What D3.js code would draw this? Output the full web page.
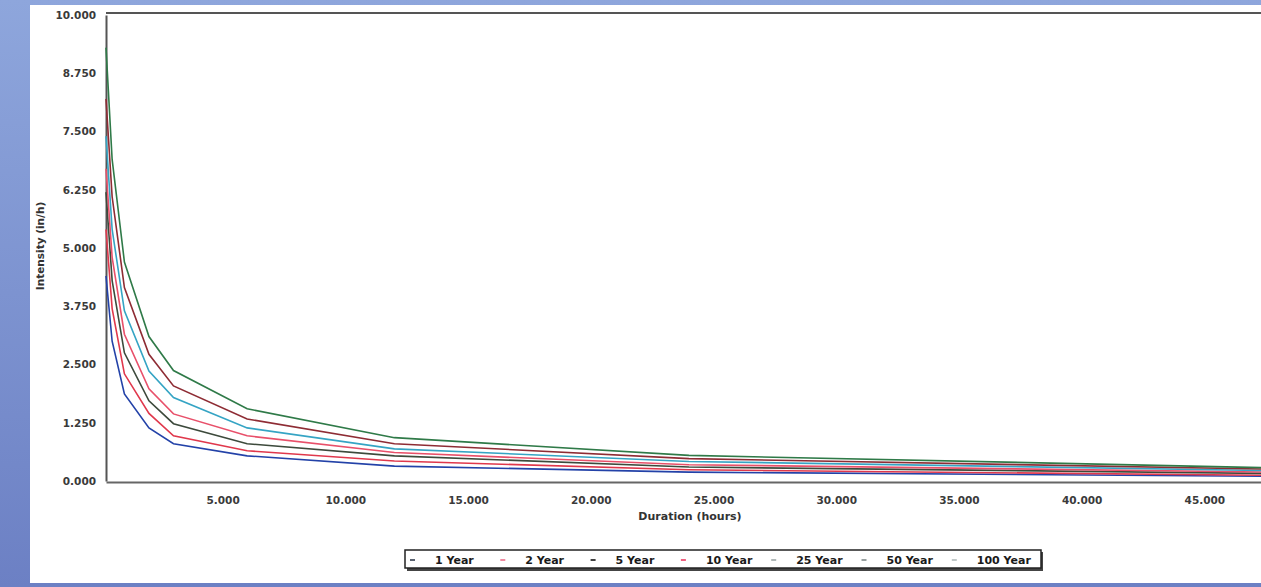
<!DOCTYPE html>
<html>
<head>
<meta charset="utf-8">
<script src="https://cdn.jsdelivr.net/npm/d3@7"></script>
<style>
  body { margin: 0; background: #fff; }
  text { font-family: "DejaVu Sans", Verdana, sans-serif; }
</style>
</head>
<body>
<div id="chart"></div>
<script>
// durations in hours
var durations = [0.25, 0.5, 1, 2, 3, 6, 12, 24, 48];

// intensities (in/h)
var year1   = [4.40, 3.00, 1.87, 1.14, 0.80, 0.54, 0.32, 0.19, 0.10];
var year2   = [5.40, 3.70, 2.30, 1.45, 0.97, 0.65, 0.43, 0.24, 0.12];
var year5   = [6.20, 4.30, 2.75, 1.72, 1.23, 0.80, 0.54, 0.30, 0.16];
var year10  = [6.70, 4.80, 3.15, 1.98, 1.44, 0.97, 0.61, 0.35, 0.19];
var year25  = [7.40, 5.40, 3.65, 2.36, 1.79, 1.14, 0.69, 0.42, 0.22];
var year50  = [8.20, 6.10, 4.15, 2.72, 2.04, 1.33, 0.80, 0.48, 0.25];
var year100 = [9.30, 6.90, 4.70, 3.10, 2.37, 1.55, 0.93, 0.55, 0.28];

var seriesNames = ["1 Year", "2 Year", "5 Year", "10 Year", "25 Year", "50 Year", "100 Year"];
var seriesValues = [year1, year2, year5, year10, year25, year50, year100];
var seriesColors = ["#2342a8", "#e0384c", "#3d4a3c", "#e8506a", "#35a4c4", "#8e2c34", "#2f7a48"];
var legendMarks = ["#5a6270", "#f08aa0", "#404040", "#f06080", "#b0b8b8", "#98a0a0", "#c0c8c8"];

var yTicks = [0, 1.25, 2.5, 3.75, 5, 6.25, 7.5, 8.75, 10];
var xTicks = [5, 10, 15, 20, 25, 30, 35, 40, 45];

var width = 1261,
    height = 587;

var svg = d3.select("#chart").append("svg")
  .attr("width", width)
  .attr("height", height);

// screen frame round the chart panel
var grad = svg.append("defs").append("linearGradient")
  .attr("id", "frame")
  .attr("x1", 0).attr("x2", 0).attr("y1", 0).attr("y2", 1);
grad.append("stop").attr("offset", "0").attr("stop-color", "#8ea6dc");
grad.append("stop").attr("offset", "1").attr("stop-color", "#6c80c4");

svg.append("rect")
  .attr("width", width).attr("height", height)
  .attr("fill", "url(#frame)");
svg.append("rect")
  .attr("x", 30).attr("y", 5)
  .attr("width", width - 30).attr("height", 578)
  .attr("fill", "#ffffff");

var x = d3.scaleLinear().domain([0.25, 48]).range([106, 1278]);
var y = d3.scaleLinear().domain([0, 10]).range([481, 15]);

var fmt = d3.format(".3f");

// plot frame
svg.append("line")
  .attr("x1", 106).attr("x2", width).attr("y1", 13).attr("y2", 13)
  .attr("stroke", "#555").attr("stroke-width", 2);

var yAxis = svg.append("g")
  .attr("transform", "translate(106,0)")
  .call(d3.axisLeft(y).tickValues(yTicks).tickFormat(fmt).tickSize(0).tickPadding(10));
yAxis.select(".domain").attr("stroke", "#555").attr("stroke-width", 2);
yAxis.selectAll("text")
  .attr("fill", "#3a3a3a").style("font-size", "10.5px").style("font-weight", "bold");

var xAxis = svg.append("g")
  .attr("transform", "translate(0,482)")
  .call(d3.axisBottom(x).tickValues(xTicks).tickFormat(fmt).tickSize(0).tickPadding(15));
xAxis.select(".domain").attr("stroke", "#666").attr("stroke-width", 2);
xAxis.selectAll("text")
  .attr("fill", "#3a3a3a").style("font-size", "10.5px").style("font-weight", "bold");

svg.append("text")
  .attr("transform", "translate(44,246) rotate(-90)")
  .attr("text-anchor", "middle")
  .attr("fill", "#333")
  .style("font-size", "10.5px")
  .style("font-weight", "bold")
  .text("Intensity (in/h)");

svg.append("text")
  .attr("x", 690).attr("y", 520)
  .attr("text-anchor", "middle")
  .attr("fill", "#333")
  .style("font-size", "11px")
  .style("font-weight", "bold")
  .text("Duration (hours)");

var line = d3.line()
  .x(function(d, i) { return x(durations[i]); })
  .y(function(d) { return y(d); });

svg.append("g")
  .selectAll("path")
  .data(seriesValues)
  .enter()
  .append("path")
  .attr("d", line)
  .attr("fill", "none")
  .attr("stroke", function(d, i) { return seriesColors[i]; })
  .attr("stroke-width", 1.6);

// legend
var legend = svg.append("g");
legend.append("rect")
  .attr("x", 407).attr("y", 552)
  .attr("width", 636).attr("height", 19)
  .attr("fill", "#444");
legend.append("rect")
  .attr("x", 405).attr("y", 550)
  .attr("width", 636).attr("height", 18)
  .attr("fill", "#fff")
  .attr("stroke", "#222").attr("stroke-width", 1.5);

var items = legend.selectAll("g.item")
  .data(seriesNames)
  .enter()
  .append("g")
  .attr("class", "item")
  .attr("transform", function(d, i) { return "translate(" + (410 + i * 90.3) + ",560)"; });

items.append("line")
  .attr("x1", 0).attr("x2", 5)
  .attr("stroke", function(d, i) { return legendMarks[i]; })
  .attr("stroke-width", 2);

items.append("text")
  .attr("x", 25).attr("y", 4)
  .attr("fill", "#1a1a1a")
  .style("font-size", "11px")
  .style("font-weight", "bold")
  .text(function(d) { return d; });
</script>
</body>
</html>
